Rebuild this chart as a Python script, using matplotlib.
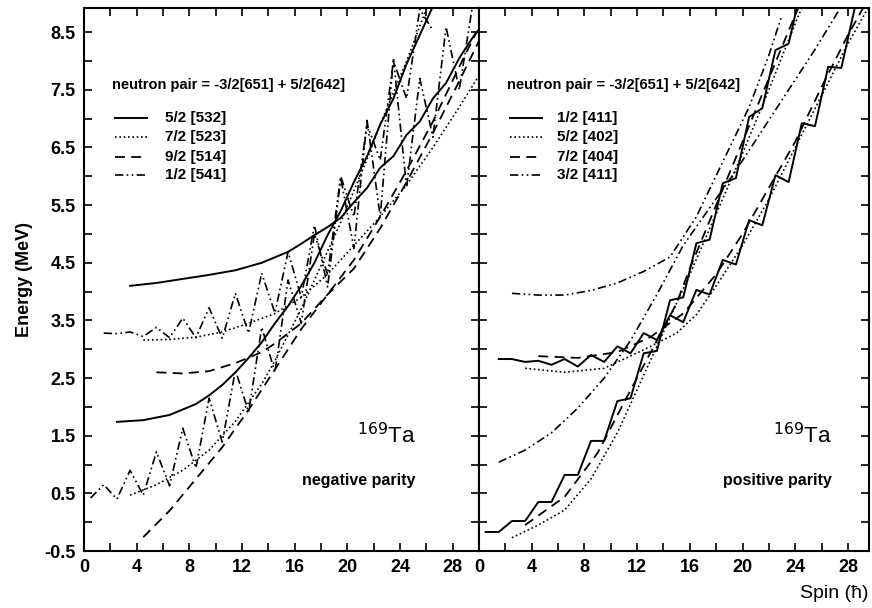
import matplotlib
matplotlib.use("Agg")
import matplotlib.pyplot as plt
from matplotlib.ticker import MultipleLocator, FixedLocator
from matplotlib.lines import Line2D

plt.rcParams['font.family'] = ['Liberation Sans', 'DejaVu Sans']
plt.rcParams['axes.unicode_minus'] = False
NARROW = ['Liberation Sans Narrow', 'Liberation Sans', 'DejaVu Sans']

# ---------------- data: negative parity (left) ----------------
neg_532_a_x = [3.5, 5.5, 7.5, 9.5, 11.5, 13.5, 15.5, 16.5, 17.5, 18.5, 19.5, 20.5, 21.5, 22.5, 23.5, 24.5, 25.5, 26.5, 27.5, 28.5, 29.5, 30.0]
neg_532_a_y = [4.10, 4.15, 4.22, 4.29, 4.37, 4.50, 4.69, 4.83, 4.98, 5.12, 5.28, 5.55, 5.80, 6.15, 6.35, 6.72, 6.95, 7.35, 7.62, 8.05, 8.40, 8.55]
neg_532_b_x = [2.5, 4.5, 6.5, 8.5, 9.5, 10.5, 11.5, 12.5, 13.5, 14.5, 15.5, 16.5, 17.5, 18.5, 19.5, 20.5, 21.5, 22.5, 23.5, 24.5, 25.5, 26.5]
neg_532_b_y = [1.74, 1.77, 1.86, 2.05, 2.20, 2.38, 2.60, 2.85, 3.12, 3.45, 3.75, 4.10, 4.50, 4.98, 5.40, 5.90, 6.35, 6.90, 7.35, 7.95, 8.45, 8.95]

neg_523_a_x = [4.5, 6.5, 8.5, 10.5, 12.5, 14.5, 16.5, 18.5, 20.5, 22.5, 24.5, 26.5, 28.5, 30.0]
neg_523_a_y = [3.16, 3.17, 3.21, 3.30, 3.45, 3.62, 3.90, 4.30, 4.80, 5.30, 5.85, 6.50, 7.20, 7.75]
neg_523_b_x = [3.5, 5.5, 7.5, 9.5, 11.5, 13.5, 14.5, 15.5, 16.5, 17.5, 18.5, 19.5, 20.5, 21.5, 22.5, 23.5, 24.5, 25.5, 26.5]
neg_523_b_y = [0.47, 0.65, 0.90, 1.25, 1.75, 2.40, 2.80, 3.25, 3.70, 4.20, 4.70, 5.20, 5.75, 6.30, 6.90, 7.45, 8.00, 8.60, 9.20]

neg_514_a_x = [5.5, 7.5, 9.5, 11.5, 13.5, 14.5, 16.5, 18.5, 20.5, 22.5, 24.5, 26.5, 28.5, 30.0]
neg_514_a_y = [2.60, 2.58, 2.62, 2.76, 2.95, 3.10, 3.45, 3.95, 4.40, 5.10, 5.90, 6.75, 7.65, 8.35]
neg_514_b_x = [4.5, 6.5, 8.5, 10.5, 12.5, 14.5, 16.5, 18.5, 20.5, 22.5, 24.5, 26.5, 28.5, 29.8]
neg_514_b_y = [-0.26, 0.20, 0.75, 1.30, 1.95, 2.65, 3.35, 3.95, 4.55, 5.30, 6.10, 6.95, 7.90, 8.50]

neg_541_a_x = [1.5, 2.5, 3.5, 4.5, 5.5, 6.5, 7.5, 8.5, 9.5, 10.5, 11.5, 12.5, 13.5, 14.5, 15.5, 16.5, 17.5, 18.5, 19.5, 20.5, 21.5, 22.5, 23.5, 24.5, 25.5, 26.5, 27.5, 28.5, 29.5]
neg_541_a_y = [3.28, 3.27, 3.30, 3.22, 3.38, 3.20, 3.54, 3.20, 3.72, 3.19, 3.97, 3.28, 4.32, 3.63, 4.69, 3.90, 5.15, 4.08, 5.97, 4.75, 6.97, 5.30, 8.05, 5.81, 7.70, 6.68, 8.59, 7.50, 8.95]
neg_541_b_x = [0.5, 1.5, 2.5, 3.5, 4.5, 5.5, 6.5, 7.5, 8.5, 9.5, 10.5, 11.5, 12.5, 13.5, 14.5, 15.5, 16.5, 17.5, 18.5, 19.5, 20.5, 21.5, 22.5, 23.5, 24.5, 25.5, 26.5]
neg_541_b_y = [0.42, 0.65, 0.40, 0.90, 0.47, 1.22, 0.63, 1.63, 0.94, 2.15, 1.39, 2.64, 1.91, 3.38, 2.60, 4.20, 3.45, 5.00, 4.30, 6.00, 5.30, 6.90, 6.28, 8.00, 7.35, 8.90, 8.53]

# ---------------- data: positive parity (right) ----------------
pos_411_a_x = [0.5, 1.5, 2.5, 3.5, 4.5, 5.5, 6.5, 7.5, 8.5, 9.5, 10.5, 11.5, 12.5, 13.5, 14.5, 15.5, 16.5, 17.5, 18.5, 19.5, 20.5, 21.5, 22.5, 23.5, 24.5]
pos_411_a_y = [-0.17, -0.17, 0.02, 0.02, 0.35, 0.35, 0.82, 0.82, 1.41, 1.41, 2.10, 2.15, 2.93, 2.97, 3.85, 3.90, 4.84, 4.90, 5.88, 5.97, 7.03, 7.18, 8.19, 8.30, 9.30]
pos_411_b_x = [1.5, 2.5, 3.5, 4.5, 5.5, 6.5, 7.5, 8.5, 9.5, 10.5, 11.5, 12.5, 13.5, 14.5, 15.5, 16.5, 17.5, 18.5, 19.5, 20.5, 21.5, 22.5, 23.5, 24.5, 25.5, 26.5, 27.5, 28.5]
pos_411_b_y = [2.83, 2.83, 2.78, 2.80, 2.73, 2.83, 2.70, 2.90, 2.78, 3.05, 2.93, 3.28, 3.16, 3.59, 3.47, 4.03, 3.95, 4.55, 4.47, 5.24, 5.15, 6.02, 5.90, 6.92, 6.87, 7.90, 7.88, 8.90]

pos_402_a_x = [3.5, 6.5, 9.5, 12.5, 15.0, 16.5, 18.0, 20.0, 22.0, 24.0, 26.0, 28.0, 29.6]
pos_402_a_y = [2.67, 2.60, 2.67, 2.99, 3.28, 3.60, 4.10, 4.80, 5.60, 6.50, 7.40, 8.30, 8.95]
pos_402_b_x = [2.5, 4.5, 6.5, 8.5, 10.5, 12.5, 14.0, 16.0, 18.0, 20.0, 22.0, 24.0, 25.0]
pos_402_b_y = [-0.27, -0.05, 0.21, 0.75, 1.55, 2.55, 3.30, 4.30, 5.35, 6.40, 7.50, 8.65, 9.20]

pos_404_a_x = [4.5, 7.5, 10.5, 13.0, 15.5, 18.0, 20.0, 22.0, 24.0, 26.0, 28.0, 29.6]
pos_404_a_y = [2.88, 2.85, 2.95, 3.21, 3.62, 4.30, 5.00, 5.80, 6.60, 7.55, 8.45, 9.10]
pos_404_b_x = [3.5, 6.5, 9.0, 11.5, 13.5, 15.0, 16.0, 18.0, 20.0, 22.0, 24.0, 25.0]
pos_404_b_y = [-0.05, 0.44, 1.20, 2.29, 3.15, 3.80, 4.40, 5.50, 6.60, 7.70, 8.80, 9.30]

pos_411b_a_x = [2.5, 4.5, 6.5, 8.5, 10.5, 12.5, 14.5, 16.5, 18.5, 20.5, 22.0, 23.0]
pos_411b_a_y = [3.97, 3.94, 3.94, 4.02, 4.15, 4.35, 4.60, 5.30, 6.25, 7.20, 8.10, 8.80]
pos_411b_b_x = [1.5, 3.5, 5.5, 7.5, 9.5, 11.5, 13.5, 15.5, 17.5, 19.5, 21.5, 23.5, 25.5, 27.5]
pos_411b_b_y = [1.04, 1.25, 1.55, 1.98, 2.50, 3.15, 3.95, 4.80, 5.45, 6.10, 6.80, 7.50, 8.20, 8.95]

neg_labels = ['5/2 [532]', '7/2 [523]', '9/2 [514]', '1/2 [541]']
pos_labels = ['1/2 [411]', '5/2 [402]', '7/2 [404]', '3/2 [411]']
pair_text = 'neutron pair = -3/2[651] + 5/2[642]'
y_ticks = [-0.5, 0.5, 1.5, 2.5, 3.5, 4.5, 5.5, 6.5, 7.5, 8.5]
x_ticks = [0, 4, 8, 12, 16, 20, 24, 28]

# ---------------- styles ----------------
S_SOLID = dict(color='black', lw=1.4, ls='-')
S_DOT = dict(color='black', lw=1.2, ls=(0, (1.0, 1.6)))
S_DASH = dict(color='black', lw=1.3, ls=(0, (5.5, 3.5)))
S_DDD = dict(color='black', lw=1.2, ls=(0, (5, 2, 1, 2, 1, 2)))
styles = [S_SOLID, S_DOT, S_DASH, S_DDD]

fig = plt.figure(figsize=(8.72, 6.08), dpi=100)
axL = fig.add_axes([84 / 872, 57 / 608, 395 / 872, 543 / 608])
axR = fig.add_axes([479 / 872, 57 / 608, 390 / 872, 543 / 608])

axL.plot(neg_532_a_x, neg_532_a_y, **S_SOLID)
axL.plot(neg_532_b_x, neg_532_b_y, **S_SOLID)
axL.plot(neg_523_a_x, neg_523_a_y, **S_DOT)
axL.plot(neg_523_b_x, neg_523_b_y, **S_DOT)
axL.plot(neg_514_a_x, neg_514_a_y, **S_DASH)
axL.plot(neg_514_b_x, neg_514_b_y, **S_DASH)
axL.plot(neg_541_a_x, neg_541_a_y, **S_DDD)
axL.plot(neg_541_b_x, neg_541_b_y, **S_DDD)

axR.plot(pos_411_a_x, pos_411_a_y, **S_SOLID)
axR.plot(pos_411_b_x, pos_411_b_y, **S_SOLID)
axR.plot(pos_402_a_x, pos_402_a_y, **S_DOT)
axR.plot(pos_402_b_x, pos_402_b_y, **S_DOT)
axR.plot(pos_404_a_x, pos_404_a_y, **S_DASH)
axR.plot(pos_404_b_x, pos_404_b_y, **S_DASH)
axR.plot(pos_411b_a_x, pos_411b_a_y, **S_DDD)
axR.plot(pos_411b_b_x, pos_411b_b_y, **S_DDD)

panels = [(axL, 30.0, neg_labels, 'negative parity', 6.15, 25.2),
          (axR, 29.6, pos_labels, 'positive parity', 5.9, 26.8)]
for ax, xmax, labels, parity, lab_x, right_x in panels:
    ax.set_xlim(0, xmax)
    ax.set_ylim(-0.5, 8.92)
    ax.xaxis.set_major_locator(FixedLocator(x_ticks))
    ax.xaxis.set_minor_locator(MultipleLocator(2))
    ax.yaxis.set_major_locator(FixedLocator(y_ticks))
    ax.yaxis.set_minor_locator(MultipleLocator(1))
    ax.tick_params(which='both', direction='in', top=True, right=True,
                   width=1.2, length=5.5, labelsize=13, pad=6)
    for lab in ax.get_xticklabels() + ax.get_yticklabels():
        lab.set_fontweight('bold')
    for sp in ax.spines.values():
        sp.set_linewidth(1.5)
    # annotation block
    ax.text(2.1, 7.58, pair_text, fontsize=10.5, fontweight='bold', va='center',
            ha='left', family=NARROW)
    rows_y = [7.01, 6.68, 6.34, 6.02]
    for st, lab, yy in zip(styles, labels, rows_y):
        ax.add_line(Line2D([2.37, 4.78], [yy, yy], **st))
        ax.text(lab_x, yy, lab, fontsize=11, fontweight='bold', va='center',
                ha='left', family=NARROW)
    ax.text(right_x, 1.5, r'$^{169}$Ta', fontsize=16, ha='right', va='center')
    ax.text(right_x, 0.73, parity, fontsize=11.5, fontweight='bold', ha='right',
            va='center', family=NARROW)

axR.tick_params(labelleft=False)
axL.set_ylabel('Energy (MeV)', fontsize=13, fontweight='bold', labelpad=8)
fig.text(868 / 872, 1 - 593 / 608, 'Spin (ħ)', fontsize=14, ha='right', va='center')

fig.savefig('out.png', dpi=100)
